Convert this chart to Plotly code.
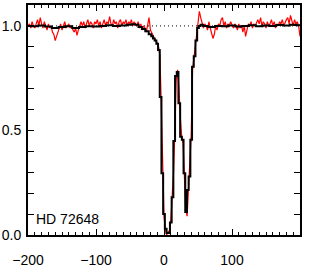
import numpy as np
import plotly.graph_objects as go

# Observed spectrum (red), velocity grid in km/s
red_v = np.arange(-200, 201, 2)
red_f = [
    1.00, 1.01, 0.99, 1.02, 1.00, 0.99, 1.01, 1.03, 1.00, 1.04,
    1.01, 0.99, 1.02, 1.00, 0.98, 1.01, 0.99, 1.00, 0.97, 0.96,
    0.93, 0.95, 0.97, 0.99, 1.01, 0.98, 1.00, 1.02, 0.99, 1.00,
    1.01, 0.99, 1.00, 0.98, 0.97, 0.99, 0.955, 0.98, 1.00, 1.02,
    1.00, 1.02, 0.99, 1.01, 1.03, 1.00, 1.02, 1.01, 0.99, 1.02,
    1.01, 1.03, 1.00, 1.02, 0.99, 1.01, 1.03, 1.00, 1.02, 1.01,
    1.045, 1.01, 1.00, 1.03, 1.01, 1.02, 0.99, 1.02, 1.03, 1.00,
    1.02, 1.01, 1.03, 1.00, 1.02, 1.01, 1.03, 1.00, 1.02, 1.01,
    1.00, 1.02, 0.99, 1.01, 0.98, 1.00, 0.99, 0.97, 1.00, 1.04,
    0.98, 0.965, 0.95, 0.94, 0.93, 0.92, 0.90, 0.86, 0.62, 0.30,
    0.09, 0.03, 0.00, 0.015, 0.02, 0.07, 0.17, 0.30, 0.50, 0.74,
    0.79, 0.70, 0.56, 0.47, 0.44, 0.30, 0.12, 0.09, 0.22, 0.30,
    0.48, 0.79, 0.85, 0.88, 0.95, 1.00, 1.07, 1.04, 1.02, 0.99,
    1.01, 1.00, 0.98, 1.02, 0.99, 0.97, 0.94, 0.96, 1.00, 0.98,
    1.01, 1.00, 1.03, 1.04, 1.00, 1.02, 0.99, 1.01, 1.00, 1.02,
    1.00, 0.99, 1.01, 1.00, 0.98, 1.01, 0.99, 1.00, 0.97, 1.00,
    0.95, 0.98, 1.01, 1.00, 1.02, 0.99, 1.01, 1.00, 1.02, 1.03,
    1.01, 1.04, 1.00, 1.02, 1.01, 0.99, 1.02, 1.00, 1.01, 1.03,
    1.00, 1.02, 0.99, 1.01, 1.00, 1.02, 1.01, 1.03, 1.00, 1.02,
    1.03, 1.04, 1.01, 1.05, 1.02, 1.00, 1.03, 1.01, 1.02, 1.00,
    0.95,
]

# Model / binned profile (black)
black_v = [-200, -190, -180, -170, -160, -150, -140, -130, -120, -110, -100,
           -90, -80, -70, -60, -50, -45, -40, -35, -30, -25, -20, -17.5, -15,
           -12.5, -10, -7.5, -5, -2.5, 0, 2.5, 5, 7.5, 10, 12.5, 15, 17.5, 20,
           22.5, 25, 27.5, 30, 32.5, 35, 37.5, 40, 42.5, 45, 47.5, 50, 52.5,
           55, 60, 70, 80, 90, 100, 110, 120, 130, 140, 150, 160, 170, 180,
           190, 200]
black_f = [1.000, 0.998, 1.002, 0.997, 0.990, 0.995, 0.998, 0.990, 0.995, 0.998,
           0.997, 1.000, 1.003, 1.000, 1.002, 1.005, 1.008, 1.005, 0.995, 0.985,
           0.975, 0.960, 0.950, 0.940, 0.930, 0.915, 0.885, 0.660, 0.295, 0.100,
           0.030, 0.010, 0.010, 0.060, 0.180, 0.450, 0.760, 0.780, 0.630, 0.470,
           0.455, 0.295, 0.110, 0.215, 0.280, 0.455, 0.805, 0.855, 0.930, 0.990,
           1.000, 1.005, 1.000, 0.995, 1.000, 0.998, 1.002, 0.997, 1.000, 1.003,
           0.998, 1.002, 1.000, 1.004, 1.002, 1.005, 1.003]

label = "HD 72648"
x_ticks = [-200, -100, 0, 100, 200]
y_ticks = [0.0, 0.5, 1.0]

font = "Liberation Sans, Arial, Helvetica, sans-serif"

fig = go.Figure()
fig.add_trace(go.Scatter(x=[-200, 200], y=[1, 1], mode="lines",
                         line=dict(color="black", width=1, dash="1px,3px"),
                         hoverinfo="skip"))
fig.add_trace(go.Scatter(x=red_v, y=red_f, mode="lines",
                         line=dict(color="#ff0000", width=1.2)))
fig.add_trace(go.Scatter(x=black_v, y=black_f, mode="lines",
                         line=dict(color="black", width=2, shape="hvh")))

fig.add_annotation(x=-191, y=0.075, xref="x", yref="y", text=label,
                   showarrow=False, xanchor="left", yanchor="middle",
                   font=dict(family=font, size=14, color="black"))

fig.update_layout(
    width=311, height=273,
    margin=dict(l=28, r=11, t=5, b=38),
    paper_bgcolor="white", plot_bgcolor="white",
    showlegend=False,
    font=dict(family=font, size=14, color="black"),
)
fig.update_xaxes(
    range=[-200, 200], tickvals=x_ticks, ticks="inside", ticklen=6,
    tickwidth=1, tickcolor="black", showline=True, linewidth=2,
    linecolor="black", mirror="ticks", showgrid=False, zeroline=False,
    ticklabelstandoff=11, automargin=False,
    minor=dict(dtick=10, ticks="inside", ticklen=3, tickcolor="black",
               showgrid=False),
)
fig.update_yaxes(
    range=[0, 1.1], tickvals=y_ticks, tickformat=".1f", ticks="inside",
    ticklen=6, tickwidth=1, tickcolor="black", showline=True, linewidth=2,
    linecolor="black", mirror="ticks", showgrid=False, zeroline=False,
    ticklabelstandoff=2, automargin=False,
    minor=dict(dtick=0.1, tick0=0, ticks="inside", ticklen=6,
               tickcolor="black", showgrid=False),
)

fig.write_html("out.html", config={"displayModeBar": False},
               post_script="document.body.style.margin='0';")
